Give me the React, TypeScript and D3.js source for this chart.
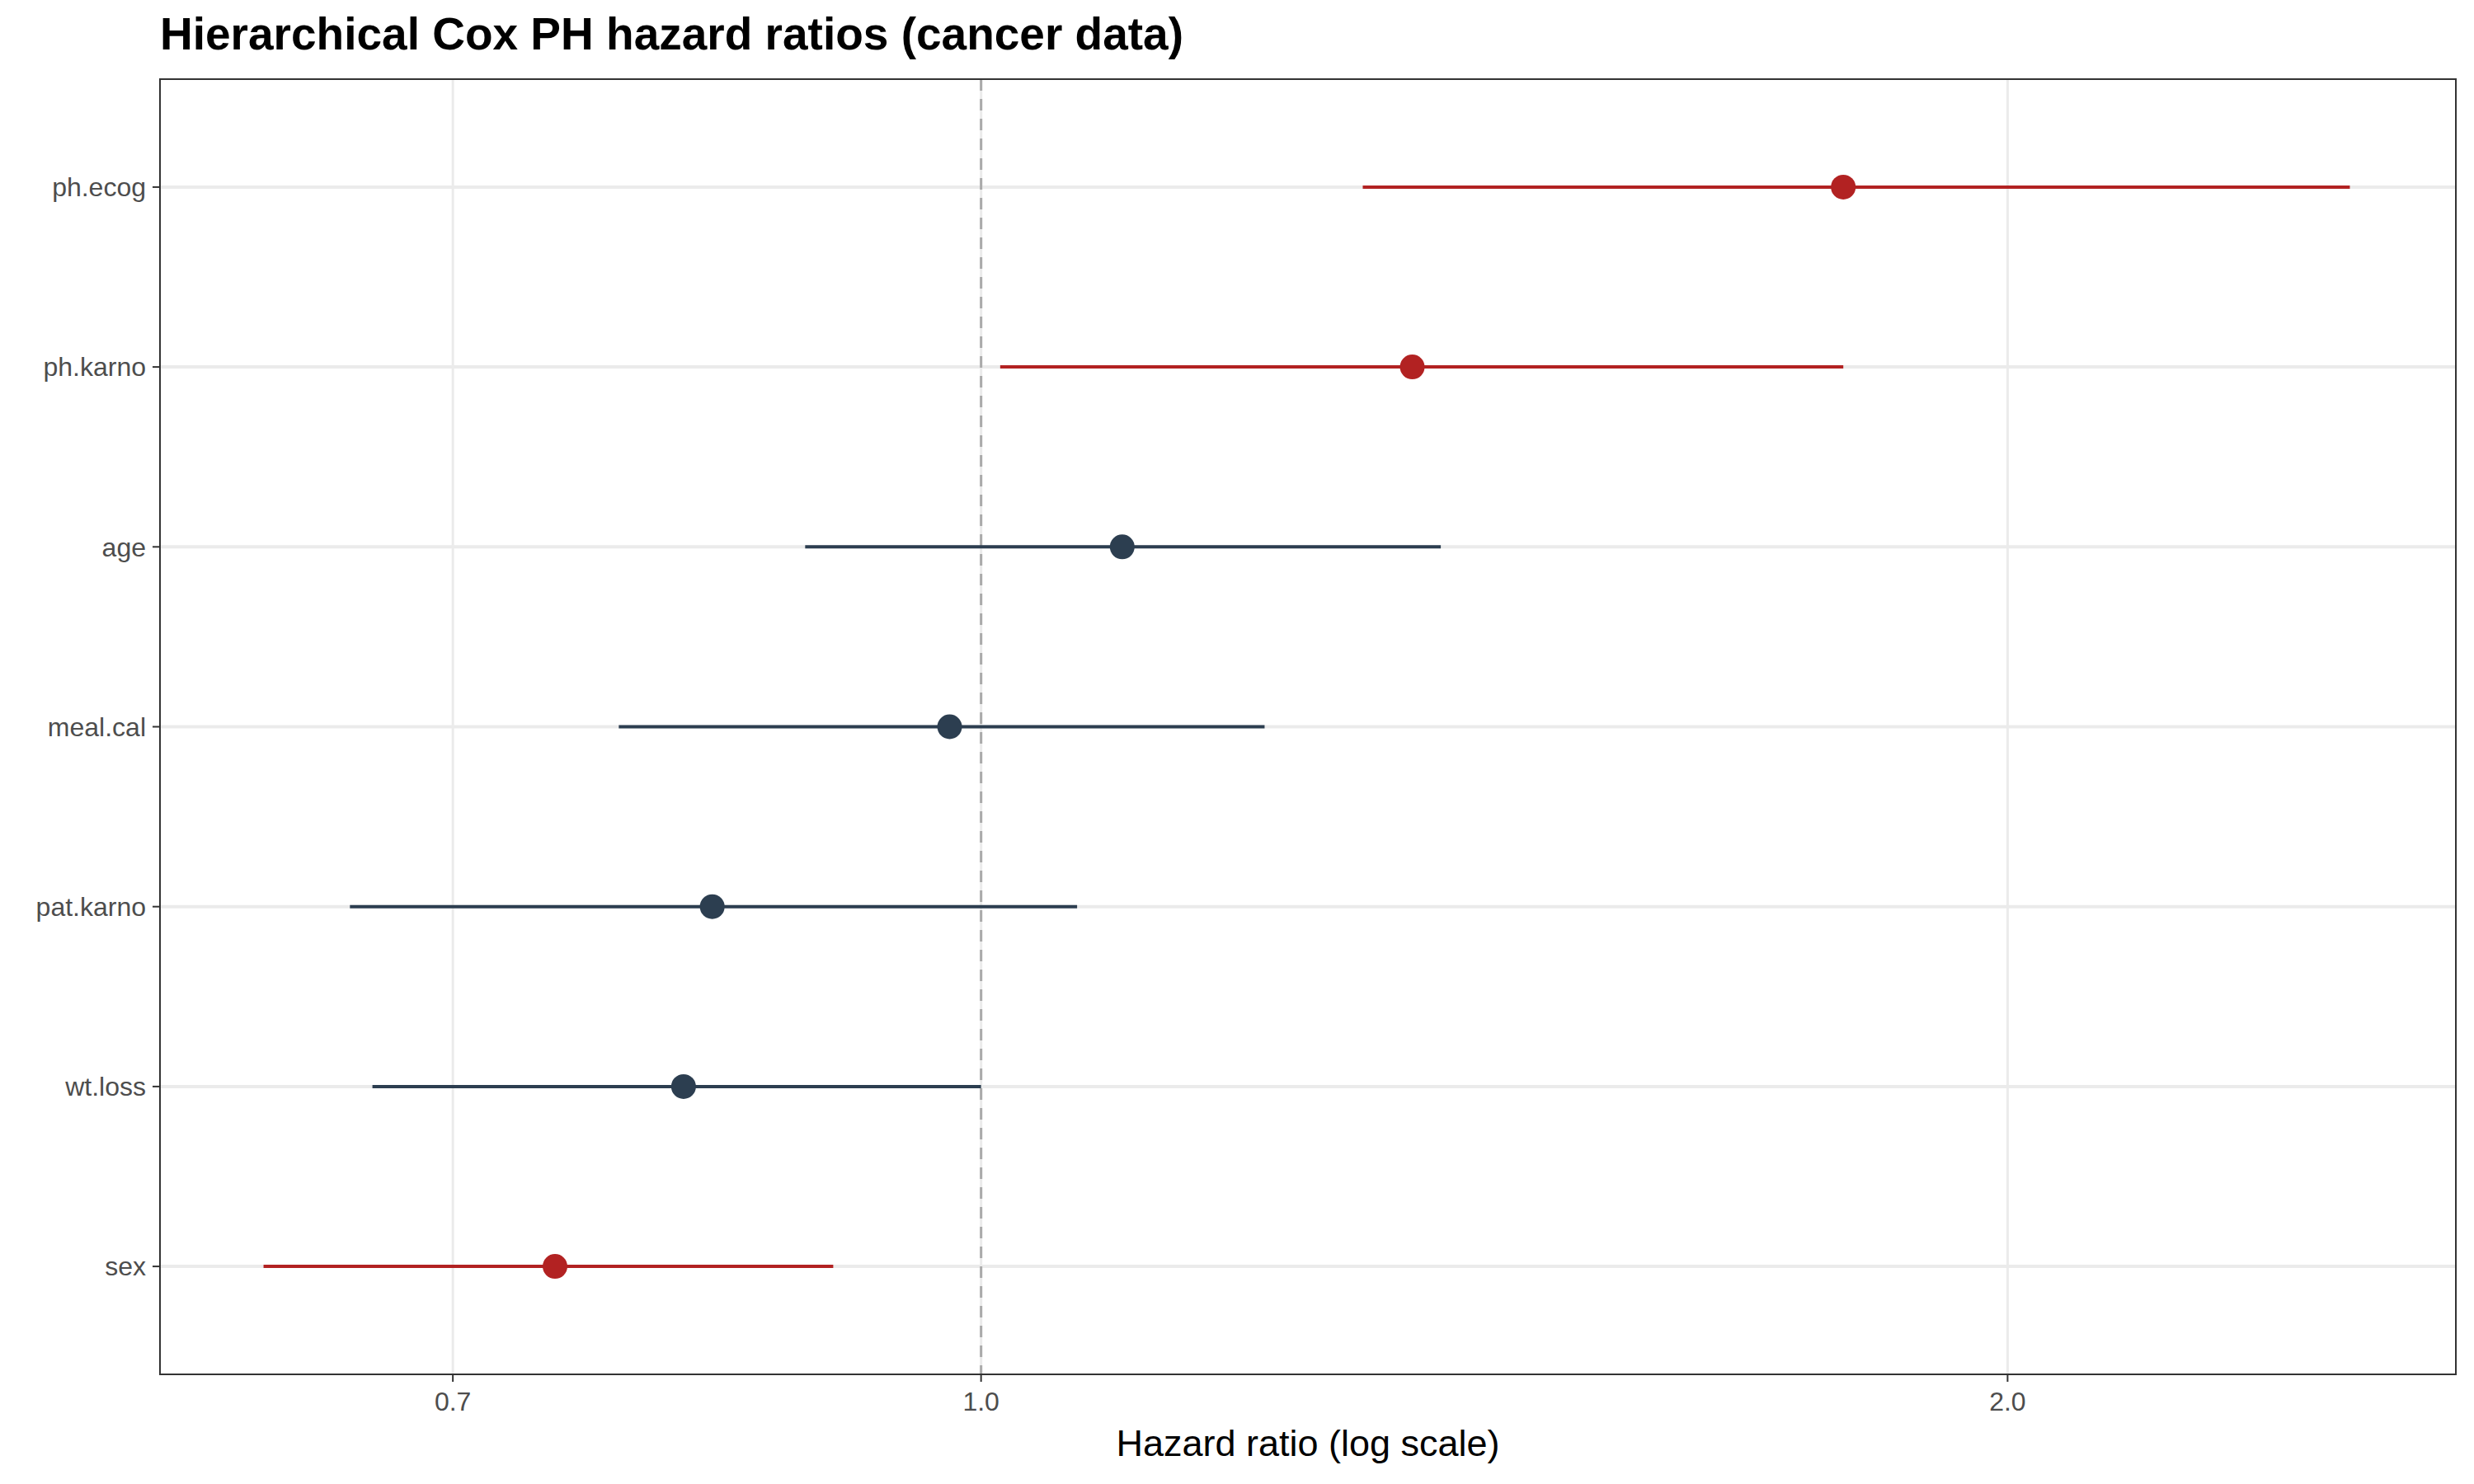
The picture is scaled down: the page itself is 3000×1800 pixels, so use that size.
import * as d3 from "d3"

const terms = ["ph.ecog", "ph.karno", "age", "meal.cal", "pat.karno", "wt.loss", "sex"]
const estimates = [1.79, 1.338, 1.10, 0.979, 0.834, 0.818, 0.750]
const lower = [1.294, 1.013, 0.888, 0.783, 0.653, 0.663, 0.616]
const upper = [2.52, 1.79, 1.364, 1.211, 1.067, 1.0, 0.905]
const significant = [true, true, false, false, false, false, true]
const xTicks = [0.7, 1.0, 2.0]

const W = 3000
const H = 1800
const m = { left: 194, right: 22, top: 96, bottom: 133 }

export default function App() {
  const x = d3.scaleLog().domain([0.5744, 2.707]).range([m.left, W - m.right])
  const y = d3.scalePoint().domain(terms).range([m.top, H - m.bottom]).padding(0.6)
  const font = "Liberation Sans, Arial, sans-serif"
  return (
    <div style={{ position: "fixed", left: 0, top: 0 }}>
      <svg width={W} height={H} fontFamily={font}>
        <rect width={W} height={H} fill="#fff" />
        <text x={m.left} y={60} fontSize={55} fontWeight="bold">Hierarchical Cox PH hazard ratios (cancer data)</text>
        {xTicks.map(t => (
          <line key={t} x1={x(t)} x2={x(t)} y1={m.top} y2={H - m.bottom} stroke="#ebebeb" strokeWidth={3} />
        ))}
        {terms.map(t => (
          <line key={t} x1={m.left} x2={W - m.right} y1={y(t)} y2={y(t)} stroke="#ebebeb" strokeWidth={4} />
        ))}
        <line x1={x(1)} x2={x(1)} y1={m.top} y2={H - m.bottom} stroke="#aaa" strokeWidth={3} strokeDasharray="14,10" />
        {terms.map((t, i) => {
          const c = significant[i] ? "#B22222" : "#2C3E50"
          return (
            <g key={t}>
              <line x1={x(lower[i])} x2={x(upper[i])} y1={y(t)} y2={y(t)} stroke={c} strokeWidth={4} />
              <circle cx={x(estimates[i])} cy={y(t)} r={15} fill={c} />
            </g>
          )
        })}
        <rect x={m.left} y={m.top} width={W - m.left - m.right} height={H - m.top - m.bottom} fill="none" stroke="#333" strokeWidth={2} />
        {xTicks.map(t => (
          <g key={t}>
            <line x1={x(t)} x2={x(t)} y1={H - m.bottom} y2={H - m.bottom + 9} stroke="#333" strokeWidth={2} />
            <text x={x(t)} y={H - m.bottom + 44} fontSize={32} fill="#4d4d4d" textAnchor="middle">{t.toFixed(1)}</text>
          </g>
        ))}
        {terms.map(t => (
          <g key={t}>
            <line x1={m.left - 9} x2={m.left} y1={y(t)} y2={y(t)} stroke="#333" strokeWidth={2} />
            <text x={m.left - 17} y={y(t)} dy="0.35em" fontSize={32} fill="#4d4d4d" textAnchor="end">{t}</text>
          </g>
        ))}
        <text x={(m.left + W - m.right) / 2} y={H - 34} fontSize={45} textAnchor="middle">Hazard ratio (log scale)</text>
      </svg>
    </div>
  )
}
